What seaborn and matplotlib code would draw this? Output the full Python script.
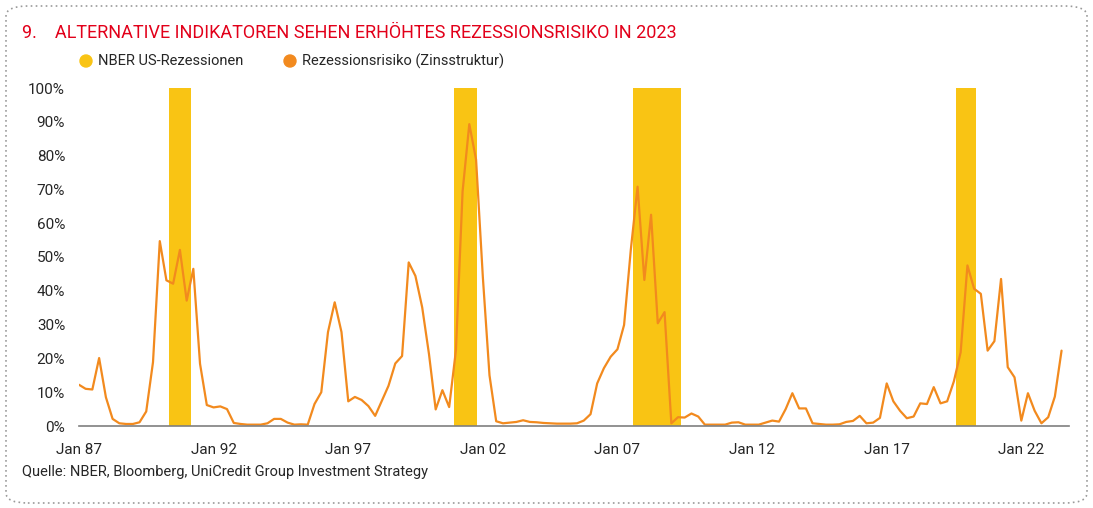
import pandas as pd
import seaborn as sns
import matplotlib.pyplot as plt
from matplotlib.patches import FancyBboxPatch, Ellipse

# quarterly recession probability from the yield curve, Q1 1987 onwards (in %)
risk = [12.2, 11.0, 10.8, 20.1, 8.5, 2.1, 0.8, 0.6, 0.6, 1.1, 4.3, 18.9, 54.7, 43.1, 42.1, 52.1,
        37.1, 46.5, 18.4, 6.2, 5.5, 5.8, 5.0, 0.9, 0.6, 0.4, 0.4, 0.4, 0.8, 2.1, 2.1, 1.0,
        0.4, 0.5, 0.4, 6.5, 10.0, 27.8, 36.6, 27.8, 7.3, 8.6, 7.7, 5.9, 3.0, 7.4, 11.9, 18.5,
        20.7, 48.4, 44.4, 35.1, 21.3, 4.9, 10.6, 5.6, 22.5, 69.4, 89.3, 78.8, 44.0, 15.0, 1.4, 0.8,
        1.0, 1.2, 1.7, 1.2, 1.1, 0.9, 0.8, 0.7, 0.7, 0.7, 0.8, 1.6, 3.5, 12.6, 17.1, 20.5,
        22.7, 29.9, 52.1, 70.8, 43.2, 62.5, 30.4, 33.7, 0.8, 2.6, 2.5, 3.7, 2.8, 0.4, 0.4, 0.4,
        0.4, 1.0, 1.1, 0.4, 0.4, 0.4, 1.0, 1.6, 1.3, 5.0, 9.7, 5.2, 5.2, 0.8, 0.6, 0.4,
        0.4, 0.5, 1.2, 1.5, 3.0, 0.8, 1.0, 2.4, 12.6, 7.3, 4.5, 2.3, 2.8, 6.7, 6.5, 11.5,
        6.7, 7.3, 13.2, 21.8, 47.5, 40.6, 39.1, 22.3, 25.1, 43.5, 17.4, 14.4, 1.6, 9.7, 4.5, 0.8,
        2.6, 8.7, 22.3]
dates = pd.date_range("1987-01-01", periods=len(risk), freq="QS")

# NBER recession bands as drawn in the chart
rec_start = ["1990-05-01", "2000-12-01", "2007-08-01", "2019-08-01"]
rec_end = ["1991-03-01", "2001-10-15", "2009-05-15", "2020-05-01"]

tick_years = [1987, 1992, 1997, 2002, 2007, 2012, 2017, 2022]
tick_labels = ["Jan 87", "Jan 92", "Jan 97", "Jan 02", "Jan 07", "Jan 12", "Jan 17", "Jan 22"]

YELLOW = "#F9C414"
ORANGE = "#F28A1E"
RED = "#E2001A"
W, H = 1093, 508

sns.set_style("white")
plt.rcParams['font.family'] = ['Roboto', 'DejaVu Sans']

fig = plt.figure(figsize=(W / 100, H / 100), dpi=100)
ax = fig.add_axes([79 / W, 1 - 426 / H, (1069 - 79) / W, (426 - 88) / H])

df = pd.DataFrame({"date": dates, "risk": risk})
for s, e in zip(rec_start, rec_end):
    ax.axvspan(pd.Timestamp(s), pd.Timestamp(e), color=YELLOW, lw=0, zorder=1)
sns.lineplot(data=df, x="date", y="risk", ax=ax, color=ORANGE, lw=1.6, zorder=3)

ax.set_ylim(0, 100)
ax.set_xlim(pd.Timestamp("1987-01-01"), pd.Timestamp("2023-10-10"))
ax.set_yticks(range(0, 101, 10))
ax.set_yticklabels([f"{v}%" for v in range(0, 101, 10)], fontsize=11)
ax.set_xticks([pd.Timestamp(f"{y}-01-01") for y in tick_years])
ax.set_xticklabels(tick_labels, fontsize=11)
ax.tick_params(axis="x", length=0, pad=12)
ax.tick_params(axis="y", length=0, pad=10)
ax.set_xlabel("")
ax.set_ylabel("")
for side in ["top", "right", "left"]:
    ax.spines[side].set_visible(False)
ax.spines["bottom"].set_color("#7f7f7f")
ax.spines["bottom"].set_linewidth(1.2)
ax.spines["bottom"].set_zorder(4)

# title, legend and source
fig.text(22 / W, 1 - 33 / H, "9.    ALTERNATIVE INDIKATOREN SEHEN ERHÖHTES REZESSIONSRISIKO IN 2023",
         color=RED, fontsize=13, va="center", ha="left")
for cx, col, lab in [(86, YELLOW, "NBER US-Rezessionen"), (290, ORANGE, "Rezessionsrisiko (Zinsstruktur)")]:
    fig.patches.append(Ellipse((cx / W, 1 - 61 / H), 12 / W, 12 / H, transform=fig.transFigure,
                               color=col, zorder=5))
    fig.text((cx + 12) / W, 1 - 61 / H, lab, fontsize=10.5, va="center", ha="left")
fig.text(22 / W, 1 - 472 / H, "Quelle: NBER, Bloomberg, UniCredit Group Investment Strategy",
         fontsize=10.5, va="center", ha="left")

# dotted frame around the chart
frame = FancyBboxPatch((6 / W, 5 / H), (W - 12) / W, (H - 11) / H,
                       boxstyle="round,pad=0,rounding_size=0.02", transform=fig.transFigure,
                       fill=False, ec="#9a9a9a", lw=1.2, ls=(0, (1, 2)))
fig.patches.append(frame)

fig.savefig("out.png", dpi=100)
